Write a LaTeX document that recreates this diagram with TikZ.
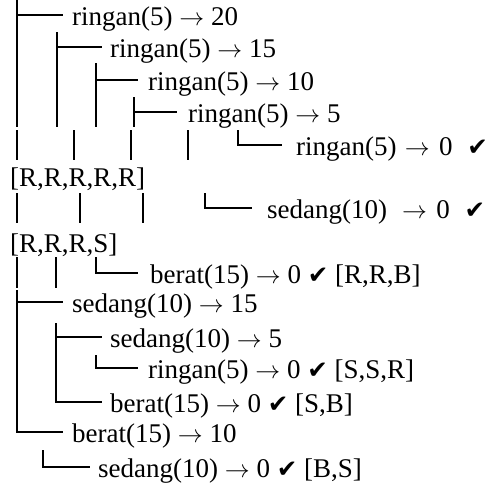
\documentclass[tikz,border=0pt]{standalone}
\usepackage{fontspec}
\setmainfont{Liberation Serif}
\newfontfamily\symfont{DejaVu Sans}
\newcommand{\ck}{{\symfont\fontsize{24.5}{24.5}\selectfont ✔}}
\newcommand{\ar}{\ensuremath{\rightarrow}}
\begin{document}
\begin{tikzpicture}[x=1pt,y=-1pt,
  lbl/.style={anchor=base west,inner sep=0pt,font=\fontsize{27}{30}\selectfont},
  br/.style={line width=1.7pt,line cap=butt}]
\useasboundingbox (0,0) rectangle (492,482);
% texts
\node[lbl] (t1)  at (72,25)   {ringan(5) \ar{} 20};
\node[lbl] (t2)  at (110,57)  {ringan(5) \ar{} 15};
\node[lbl] (t3)  at (148,90)  {ringan(5) \ar{} 10};
\node[lbl] (t4)  at (188,122) {ringan(5) \ar{} 5};
\node[lbl] (t5)  at (296,155) {ringan(5)\hspace{0.05em} \ar{} \hspace{0.1em}0\hspace{0.3em} \ck};
\node[lbl] (t6)  at (10,186)  {[R,R,R,R,R]};
\node[lbl] (t7)  at (267,218) {sedang(10)\hspace{0.3em} \ar{} \hspace{0.1em}0\hspace{0.3em} \ck};
\node[lbl] (t8)  at (10,252)  {[R,R,R,S]};
\node[lbl] (t9)  at (150,283) {berat(15) \ar{} 0 \ck{} [R,R,B]};
\node[lbl] (t10) at (72,312)  {sedang(10) \ar{} 15};
\node[lbl] (t11) at (110,347) {sedang(10) \ar{} 5};
\node[lbl] (t12) at (148,378) {ringan(5) \ar{} 0 \ck{} [S,S,R]};
\node[lbl] (t13) at (110,412) {berat(15) \ar{} 0 \ck{} [S,B]};
\node[lbl] (t14) at (72,442)  {berat(15) \ar{} 10};
\node[lbl] (t15) at (98,477)  {sedang(10) \ar{} 0 \ck{} [B,S]};
% branch lines, first block
\draw[br] (17,0) -- (17,127);
\draw[br] (17,15) -- (63,15);
\draw[br] (57,32) -- (57,127);
\draw[br] (57,47) -- (102,47);
\draw[br] (96,63) -- (96,127);
\draw[br] (96,80) -- (138,80);
\draw[br] (134,97) -- (134,127);
\draw[br] (134,112) -- (177,112);
% second row
\foreach \x in {17,74,131,188} \draw[br] (\x,130) -- (\x,160);
\draw[br] (238,130) -- (238,145) -- (282,145);
% third row
\foreach \x in {17,80,143} \draw[br] (\x,193) -- (\x,223);
\draw[br] (205,193) -- (205,208) -- (252,208);
% fourth row
\foreach \x in {17,56} \draw[br] (\x,257) -- (\x,288);
\draw[br] (96,257) -- (96,273) -- (138,273);
% lower block
\draw[br] (17,290) -- (17,432) -- (63,432);
\draw[br] (17,302) -- (63,302);
\draw[br] (56,323) -- (56,402) -- (102,402);
\draw[br] (56,337) -- (102,337);
\draw[br] (96,355) -- (96,368) -- (138,368);
\draw[br] (43,450) -- (43,467) -- (90,467);
\end{tikzpicture}
\end{document}
